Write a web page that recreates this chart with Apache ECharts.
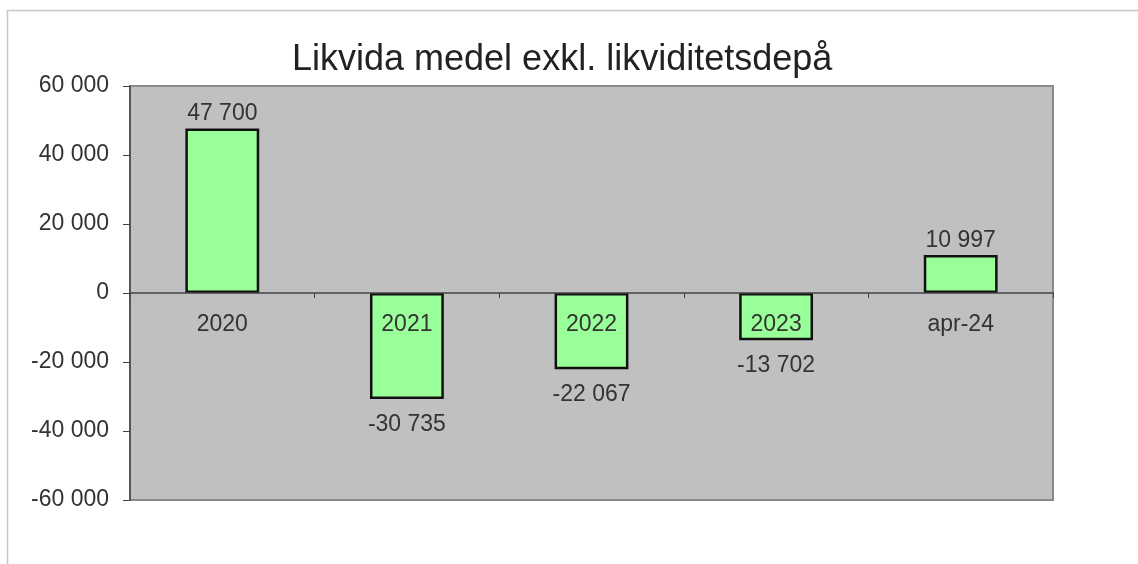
<!DOCTYPE html>
<html>
<head>
<meta charset="utf-8">
<script src="https://cdn.jsdelivr.net/npm/echarts@6/dist/echarts.min.js"></script>
<style>
  html, body { margin: 0; padding: 0; background: #fff; }
  #chart { width: 1138px; height: 564px; }
</style>
</head>
<body>
<div id="chart"></div>
<script>
// data
const categories = ['2020', '2021', '2022', '2023', 'apr-24']
const values = [47700, -30735, -22067, -13702, 10997]
const yTicks = { min: -60000, max: 60000, interval: 20000 }

// 47700 -> "47 700"
function fmt(v) {
  const s = String(Math.abs(v)).replace(/\B(?=(\d{3})+(?!\d))/g, ' ')
  return (v < 0 ? '-' : '') + s
}

const chart = echarts.init(document.getElementById('chart'))

// plot box
const gridTop = 86
const gridBottom = 64
const plotH = 564 - gridTop - gridBottom
// move category axis from the bottom edge up to the zero line
const zeroOffset = -plotH * (0 - yTicks.min) / (yTicks.max - yTicks.min)

chart.setOption({
  animation: false,
  textStyle: { fontFamily: 'Liberation Sans, Arial, sans-serif' },
  title: {
    text: 'Likvida medel exkl. likviditetsdepå',
    left: 287,
    top: 37,
    textStyle: { fontSize: 36, fontWeight: 'normal', color: '#222' }
  },
  // outer frame of the original (only top/left visible)
  graphic: [{
    type: 'rect',
    shape: { x: 7.5, y: 10.5, width: 1300, height: 700 },
    style: { fill: 'none', stroke: '#c8c8c8', lineWidth: 1.5 },
    silent: true
  }],
  grid: {
    left: 130, right: 85, top: gridTop, bottom: gridBottom,
    show: true,
    backgroundColor: '#c0c0c0',
    borderColor: '#8a8a8a',
    borderWidth: 2
  },
  xAxis: {
    type: 'category',
    data: categories,
    position: 'bottom',
    offset: zeroOffset,
    z: 10,
    axisLine: { onZero: false, lineStyle: { color: '#444', width: 1.5 } },
    axisTick: { show: true, alignWithLabel: false, length: 5, lineStyle: { color: '#444' } },
    axisLabel: { fontSize: 23, color: '#333', margin: 20 }
  },
  yAxis: {
    type: 'value',
    min: yTicks.min,
    max: yTicks.max,
    interval: yTicks.interval,
    splitLine: { show: false },
    axisLine: { show: true, lineStyle: { color: '#444', width: 1.5 } },
    axisTick: { show: true, length: 7, lineStyle: { color: '#444' } },
    axisLabel: { fontSize: 23, color: '#333', margin: 21, formatter: fmt }
  },
  series: [{
    type: 'bar',
    barWidth: '40%',
    data: values.map(v => ({
      value: v,
      label: v >= 0 ? { position: 'top', distance: 3 } : { position: 'bottom', distance: 14 }
    })),
    itemStyle: { color: '#99ff99', borderColor: '#111', borderWidth: 2.5 },
    label: {
      show: true,
      fontSize: 23,
      color: '#333',
      formatter: p => fmt(p.value)
    }
  }]
})
</script>
</body>
</html>
